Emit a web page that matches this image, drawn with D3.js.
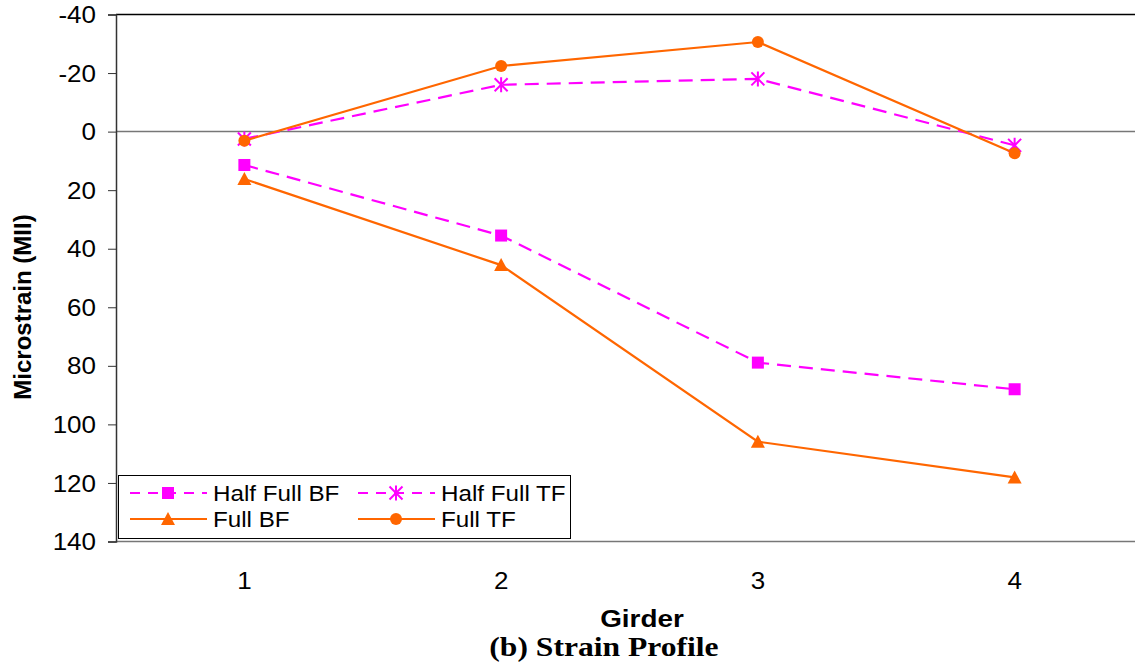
<!DOCTYPE html>
<html><head><meta charset="utf-8">
<script src="https://cdn.jsdelivr.net/npm/d3@7"></script>
<style>body{margin:0;background:#fff}svg{display:block}</style>
</head><body>
<svg id="c" width="1135" height="666"></svg>
<script>
const girders = ["1","2","3","4"];
const yTicks = [-40,-20,0,20,40,60,80,100,120,140];
const halfFullBF = [11.4, 35.5, 78.9, 88.0];
const halfFullTF = [2.5, -16.0, -18.0, 4.7];
const fullBF = [16.2, 45.6, 105.9, 118.1];
const fullTF = [3.1, -22.4, -30.6, 7.4];
const seriesNames = ["Half Full BF","Half Full TF","Full BF","Full TF"];

const series = [
  {name: seriesNames[0], values: halfFullBF, color:"#FF00FF", dash:"14,8", marker:"square"},
  {name: seriesNames[1], values: halfFullTF, color:"#FF00FF", dash:"14,8", marker:"star"},
  {name: seriesNames[2], values: fullBF, color:"#FF6600", dash:null, marker:"triangle"},
  {name: seriesNames[3], values: fullTF, color:"#FF6600", dash:null, marker:"circle"}
];

const FONT = "Liberation Sans, Arial, Helvetica, sans-serif";
const svg = d3.select("#c");
const L = 116, T = 14.5, B = 541.5, R = 1143;
const x = d3.scaleBand().domain(girders).range([L, R]);
const y = d3.scaleLinear().domain([-40, 140]).range([T, B]);
const cx = g => x(g) + x.bandwidth()/2;

// widen text horizontally (the reference glyphs are horizontally stretched)
function stretch(sel, k){
  sel.each(function(){
    const w = this.getComputedTextLength();
    d3.select(this).attr("textLength", w*k).attr("lengthAdjust","spacingAndGlyphs");
  });
}

svg.append("line").attr("x1",L).attr("x2",1135).attr("y1",T).attr("y2",T).attr("stroke","#000").attr("stroke-width",1.5);
svg.append("line").attr("x1",L).attr("x2",1135).attr("y1",y(0)).attr("y2",y(0)).attr("stroke","#777").attr("stroke-width",1.5);
svg.append("line").attr("x1",L).attr("x2",1135).attr("y1",B).attr("y2",B).attr("stroke","#777").attr("stroke-width",1.5);

const ya = svg.append("g").attr("transform",`translate(${L},0)`)
  .call(d3.axisLeft(y).tickValues(yTicks).tickSize(8).tickPadding(12).tickFormat(d => String(d)));
ya.select(".domain").attr("stroke","#333").attr("stroke-width",1.5);
ya.selectAll(".tick line").attr("stroke","#333").attr("stroke-width",1);
ya.selectAll("text").attr("font-family",FONT).attr("font-size",23).attr("fill","#000").attr("dy","0.35em");
stretch(ya.selectAll("text"), 1.13);

const xa = svg.append("g").attr("transform",`translate(0,${B})`)
  .call(d3.axisBottom(x).tickSize(0).tickPadding(31));
xa.select(".domain").remove();
xa.selectAll("text").attr("font-family",FONT).attr("font-size",23).attr("fill","#000");
stretch(xa.selectAll("text"), 1.13);

svg.append("text").attr("transform","translate(31,307) rotate(-90)").attr("text-anchor","middle")
  .attr("font-family",FONT).attr("font-weight","bold").attr("font-size",24).text("Microstrain (MII)");
const gt = svg.append("text").attr("x",642).attr("y",627).attr("text-anchor","middle")
  .attr("font-family",FONT).attr("font-weight","bold").attr("font-size",24).text("Girder");
stretch(gt, 1.16);
const tt = svg.append("text").attr("x",604).attr("y",656).attr("text-anchor","middle")
  .attr("font-family","Liberation Serif, Times New Roman, serif").attr("font-weight","bold").attr("font-size",27).text("(b) Strain Profile");
stretch(tt, 1.17);

function drawMarker(g, type, color, px, py){
  if(type==="square"){
    g.append("rect").attr("x",px-6).attr("y",py-6).attr("width",12).attr("height",12).attr("fill",color);
  } else if(type==="circle"){
    g.append("circle").attr("cx",px).attr("cy",py).attr("r",6).attr("fill",color);
  } else if(type==="triangle"){
    g.append("path").attr("d",`M${px},${py-7}L${px+7},${py+6}L${px-7},${py+6}Z`).attr("fill",color);
  } else if(type==="star"){
    const s=6.5;
    g.append("path").attr("d",`M${px-s},${py-s}L${px+s},${py+s}M${px+s},${py-s}L${px-s},${py+s}M${px},${py-s-1}L${px},${py+s+1}`)
      .attr("stroke",color).attr("stroke-width",2).attr("fill","none");
  }
}

const line = d3.line().x((d,i)=>cx(girders[i])).y(d=>y(d));
series.forEach(s=>{
  svg.append("path").datum(s.values).attr("d",line).attr("fill","none")
    .attr("stroke",s.color).attr("stroke-width",2.2).attr("stroke-dasharray",s.dash);
  const g = svg.append("g");
  s.values.forEach((v,i)=>drawMarker(g,s.marker,s.color,cx(girders[i]),y(v)));
});

const lg = svg.append("g");
lg.append("rect").attr("x",118.5).attr("y",475.5).attr("width",452).attr("height",63).attr("fill","#fff").attr("stroke","#000").attr("stroke-width",1);
const pos = [[130,493],[358,493],[130,519],[358,519]];
series.forEach((s,i)=>{
  const [lx,ly] = pos[i];
  lg.append("line").attr("x1",lx).attr("x2",lx+77).attr("y1",ly).attr("y2",ly)
    .attr("stroke",s.color).attr("stroke-width",2.2).attr("stroke-dasharray",s.dash ? "10,8" : null);
  drawMarker(lg,s.marker,s.color,lx+38,ly);
  const t = lg.append("text").attr("x",lx+83).attr("y",ly+8).attr("font-family",FONT)
    .attr("font-size",22).attr("fill","#000").text(s.name);
  stretch(t, 1.1);
});
</script>
</body></html>
